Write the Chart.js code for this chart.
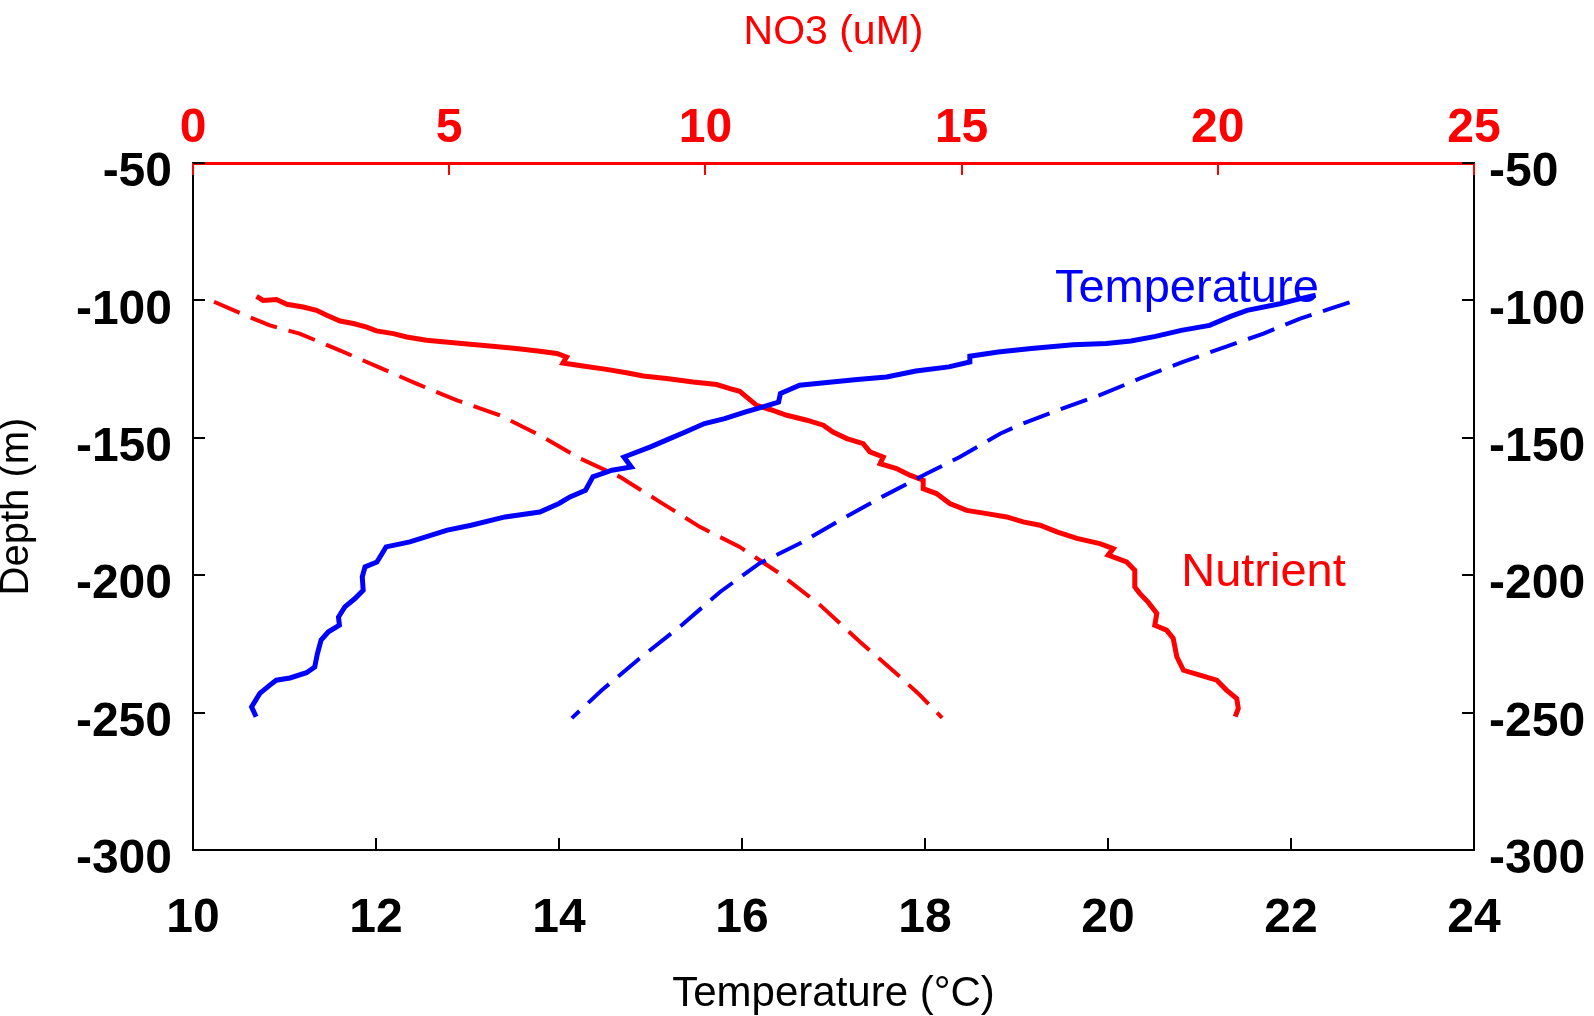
<!DOCTYPE html>
<html lang="en">
<head>
    <meta charset="UTF-8">
    <title>Temperature and NO3 profiles</title>
    <script src="https://cdn.jsdelivr.net/npm/chart.js"></script>
    <style>
        html, body {
            margin: 0;
            padding: 0;
            background: #ffffff;
            overflow: hidden;
        }
        canvas {
            display: block;
        }
    </style>
</head>
<body>
    <canvas id="profileChart" width="1594" height="1016"></canvas>

    <script>
        // tick labels
        const tempTicks = [10, 12, 14, 16, 18, 20, 22, 24];
        const no3Ticks = [0, 5, 10, 15, 20, 25];
        const depthTicks = [-300, -250, -200, -150, -100, -50];

        // measured temperature profile (deg C vs depth m)
        const tempDepth = [-98.1, -99.7, -101.2, -103.6, -105.8, -109.1, -110.9, -113.1, -114.8, -115.7, -116.1, -117.5, -118.8, -120.3, -122.4, -124.2, -125.7, -127.9, -128.8, -130.0, -130.9, -133.9, -137.0, -138.8, -140.6, -143.0, -144.8, -147.9, -150.3, -153.3, -157.0, -160.6, -161.8, -164.2, -169.1, -171.5, -173.9, -177.0, -178.8, -181.8, -183.6, -187.9, -189.7, -195.2, -197.0, -200.6, -205.5, -208.5, -211.5, -215.2, -218.2, -220.6, -223.6, -228.5, -233.4, -235.5, -237.4, -238.2, -240.0, -243.0, -247.9, -251.5];
        const tempValue = [22.27, 22.06, 21.88, 21.52, 21.34, 21.11, 20.80, 20.52, 20.25, 19.98, 19.62, 19.16, 18.80, 18.49, 18.49, 18.26, 17.90, 17.58, 17.26, 16.90, 16.63, 16.42, 16.40, 16.22, 16.04, 15.81, 15.59, 15.38, 15.21, 15.00, 14.71, 14.79, 14.58, 14.37, 14.29, 14.12, 14.00, 13.79, 13.41, 13.04, 12.78, 12.37, 12.11, 12.01, 11.88, 11.85, 11.86, 11.77, 11.66, 11.59, 11.60, 11.48, 11.40, 11.36, 11.33, 11.24, 11.06, 10.91, 10.84, 10.73, 10.64, 10.69];

        // dashed temperature curve
        const tempDashDepth = [-100.7, -103.0, -106.6, -112.1, -116.7, -122.4, -128.4, -134.5, -139.7, -144.8, -148.5, -157.0, -163.0, -171.5, -180.0, -188.5, -195.7, -206.1, -218.2, -230.3, -241.8, -252.0];
        const tempDashValue = [22.64, 22.43, 22.10, 21.70, 21.30, 20.82, 20.35, 19.91, 19.47, 19.07, 18.82, 18.38, 18.02, 17.53, 17.07, 16.63, 16.19, 15.76, 15.34, 14.88, 14.47, 14.14];

        // measured NO3 profile (uM vs depth m)
        const no3Depth = [-98.5, -100.0, -99.7, -101.4, -102.4, -103.6, -105.4, -107.5, -108.4, -109.7, -111.1, -112.1, -113.3, -114.5, -115.5, -116.6, -117.5, -118.5, -119.3, -120.6, -122.8, -123.9, -125.1, -126.3, -127.5, -128.4, -129.7, -130.6, -132.1, -133.1, -135.1, -138.2, -139.7, -141.8, -143.6, -145.4, -147.9, -150.3, -152.1, -155.1, -157.0, -159.4, -161.2, -163.6, -165.4, -168.5, -170.3, -173.9, -176.4, -177.6, -178.8, -180.6, -181.8, -184.2, -186.6, -188.5, -190.3, -192.7, -195.2, -198.2, -204.3, -206.7, -209.8, -213.9, -218.2, -220.0, -223.0, -229.7, -234.6, -236.4, -238.2, -241.8, -244.9, -248.5, -251.5];
        const no3Value = [1.24, 1.37, 1.63, 1.83, 2.15, 2.41, 2.61, 2.87, 3.13, 3.39, 3.58, 3.91, 4.17, 4.56, 5.14, 5.79, 6.31, 6.77, 7.10, 7.29, 7.22, 7.61, 8.07, 8.46, 8.79, 9.24, 9.76, 10.22, 10.48, 10.67, 10.80, 11.00, 11.26, 11.59, 11.98, 12.30, 12.49, 12.76, 13.08, 13.21, 13.47, 13.41, 13.73, 13.99, 14.25, 14.25, 14.51, 14.77, 15.10, 15.49, 15.88, 16.20, 16.53, 16.86, 17.25, 17.70, 17.96, 17.86, 18.22, 18.38, 18.38, 18.48, 18.64, 18.81, 18.77, 19.00, 19.13, 19.20, 19.33, 19.65, 19.98, 20.17, 20.37, 20.40, 20.34];

        // dashed NO3 curve
        const no3DashDepth = [-100.5, -104.8, -109.1, -112.1, -117.9, -124.2, -130.3, -136.3, -141.8, -149.1, -157.5, -164.2, -173.3, -182.4, -189.7, -199.4, -210.9, -224.3, -237.0, -243.7, -251.9];
        const no3DashValue = [0.41, 0.94, 1.50, 2.08, 2.83, 3.61, 4.36, 5.14, 5.99, 6.77, 7.55, 8.33, 9.11, 9.89, 10.67, 11.45, 12.24, 13.02, 13.80, 14.19, 14.62];

        // text labels placed in data units (temperature, depth)
        const tempLabelAt = [19.42, -100.7];
        const nutrientLabelAt = [20.80, -203.9];

        const BLUE = "#0000ff";
        const RED = "#ff0000";
        const tickFont = { family: "'Liberation Sans', Arial, Helvetica, sans-serif", size: 48, weight: "bold" };
        const titleFamily = "'Liberation Sans', Arial, sans-serif";

        function pairs(xs, ys) {
            return xs.map((v, i) => ({ x: v, y: ys[i] }));
        }
        function fixedTicks(list) {
            return scale => { scale.ticks = list.map(v => ({ value: v })); };
        }

        // draws tick marks pointing into the plot area
        const innerTicks = {
            id: "innerTicks",
            afterDatasetsDraw(chart) {
                const { ctx, chartArea: a, scales } = chart;
                const len = 12;
                ctx.save();
                ctx.lineWidth = 2;
                ["x", "x2", "y", "y2"].forEach(id => {
                    const s = scales[id];
                    ctx.strokeStyle = id === "x2" ? RED : "#000000";
                    ctx.beginPath();
                    s.ticks.forEach(t => {
                        const p = Math.round(s.getPixelForValue(t.value));
                        if (id === "x") { ctx.moveTo(p, a.bottom); ctx.lineTo(p, a.bottom - len); }
                        if (id === "x2") { ctx.moveTo(p, a.top); ctx.lineTo(p, a.top + len); }
                        if (id === "y") { ctx.moveTo(a.left, p); ctx.lineTo(a.left + len, p); }
                        if (id === "y2") { ctx.moveTo(a.right, p); ctx.lineTo(a.right - len, p); }
                    });
                    ctx.stroke();
                });
                ctx.restore();
            }
        };

        // "Temperature" and "Nutrient" captions inside the plot
        const captions = {
            id: "captions",
            afterDatasetsDraw(chart) {
                const { ctx, scales } = chart;
                ctx.save();
                ctx.font = "47px 'Liberation Sans', Arial, sans-serif";
                ctx.textAlign = "left";
                ctx.textBaseline = "alphabetic";
                ctx.fillStyle = BLUE;
                ctx.fillText("Temperature", scales.x.getPixelForValue(tempLabelAt[0]), scales.y.getPixelForValue(tempLabelAt[1]));
                ctx.fillStyle = RED;
                ctx.fillText("Nutrient", scales.x.getPixelForValue(nutrientLabelAt[0]), scales.y.getPixelForValue(nutrientLabelAt[1]));
                ctx.restore();
            }
        };

        const ctx = document.getElementById("profileChart").getContext("2d");
        new Chart(ctx, {
            type: "scatter",
            data: {
                datasets: [
                    { label: "Temperature", data: pairs(tempValue, tempDepth), xAxisID: "x", yAxisID: "y",
                      showLine: true, borderColor: BLUE, borderWidth: 5, pointRadius: 0 },
                    { label: "Temperature (dashed)", data: pairs(tempDashValue, tempDashDepth), xAxisID: "x", yAxisID: "y",
                      showLine: true, borderColor: BLUE, borderWidth: 4, borderDash: [28, 12], pointRadius: 0 },
                    { label: "Nutrient", data: pairs(no3Value, no3Depth), xAxisID: "x2", yAxisID: "y",
                      showLine: true, borderColor: RED, borderWidth: 5, pointRadius: 0 },
                    { label: "Nutrient (dashed)", data: pairs(no3DashValue, no3DashDepth), xAxisID: "x2", yAxisID: "y",
                      showLine: true, borderColor: RED, borderWidth: 4, borderDash: [28, 12], pointRadius: 0 }
                ]
            },
            options: {
                responsive: false,
                animation: false,
                devicePixelRatio: 1,
                layout: { padding: 0 },
                plugins: { legend: { display: false }, tooltip: { enabled: false } },
                scales: {
                    x: {
                        type: "linear", position: "bottom", min: 10, max: 24,
                        afterBuildTicks: fixedTicks(tempTicks),
                        afterFit: s => { s.height = 166; },
                        grid: { display: false },
                        border: { color: "#000000", width: 2 },
                        ticks: { color: "#000000", font: tickFont, padding: 32, autoSkip: false, maxRotation: 0 },
                        title: { display: true, text: "Temperature (°C)", color: "#000000",
                                 font: { family: titleFamily, size: 42, lineHeight: 1 }, padding: { bottom: 1, top: 0 } }
                    },
                    x2: {
                        type: "linear", position: "top", min: 0, max: 25,
                        afterBuildTicks: fixedTicks(no3Ticks),
                        afterFit: s => { s.height = 163; },
                        grid: { display: false },
                        border: { color: RED, width: 3 },
                        ticks: { color: RED, font: tickFont, padding: -3, autoSkip: false, maxRotation: 0 },
                        title: { display: true, text: "NO3 (uM)", color: RED,
                                 font: { family: titleFamily, size: 41, lineHeight: 1 }, padding: { top: 12, bottom: 0 } }
                    },
                    y: {
                        type: "linear", position: "left", min: -300, max: -50,
                        afterBuildTicks: fixedTicks(depthTicks),
                        afterFit: s => { s.width = 193; },
                        grid: { display: false },
                        border: { color: "#000000", width: 2 },
                        ticks: { color: "#000000", font: tickFont, padding: 13, labelOffset: 10, autoSkip: false },
                        title: { display: true, text: "Depth (m)", color: "#000000",
                                 font: { family: titleFamily, size: 40, lineHeight: 0.85 }, padding: 0 }
                    },
                    y2: {
                        type: "linear", position: "right", min: -300, max: -50,
                        afterBuildTicks: fixedTicks(depthTicks),
                        afterFit: s => { s.width = 120; },
                        grid: { display: false },
                        border: { color: "#000000", width: 2 },
                        ticks: { color: "#000000", font: tickFont, padding: 7, labelOffset: 10, autoSkip: false }
                    }
                }
            },
            plugins: [innerTicks, captions]
        });
    </script>
</body>
</html>
